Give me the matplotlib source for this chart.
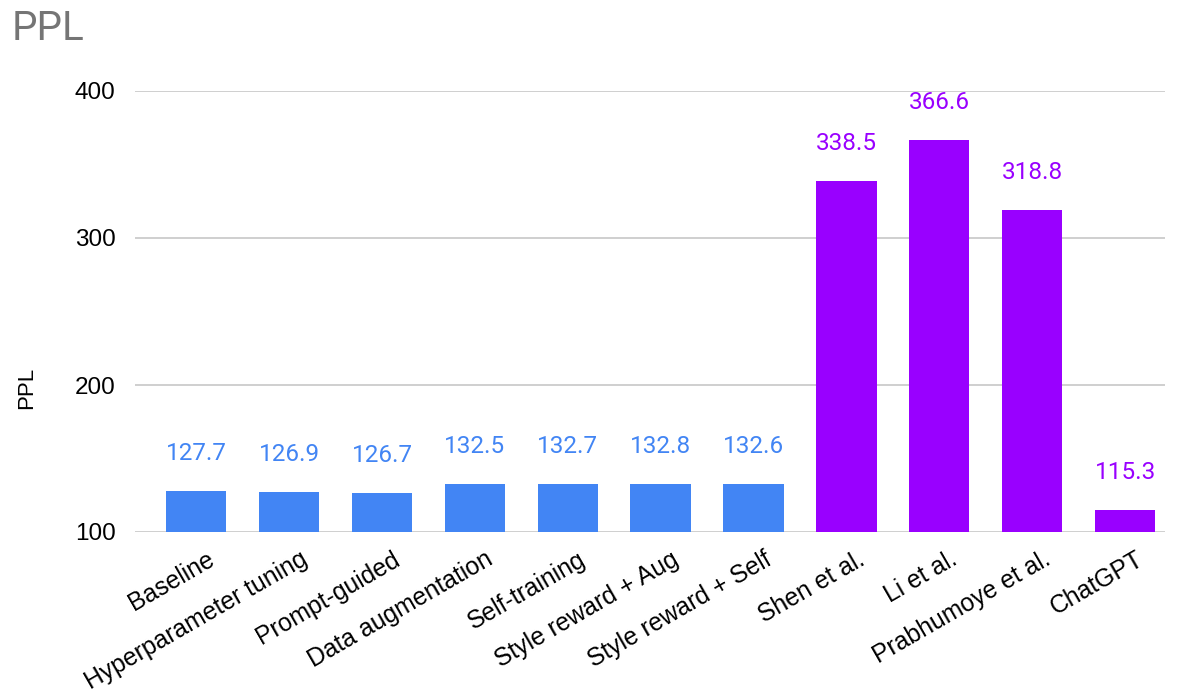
import matplotlib
matplotlib.use("Agg")
import matplotlib.pyplot as plt
import matplotlib.transforms as mtransforms

categories = ["Baseline", "Hyperparameter tuning", "Prompt-guided", "Data augmentation",
              "Self-training", "Style reward + Aug", "Style reward + Self",
              "Shen et al.", "Li et al.", "Prabhumoye et al.", "ChatGPT"]
values = [127.7, 126.9, 126.7, 132.5, 132.7, 132.8, 132.6, 338.5, 366.6, 318.8, 115.3]
groups = ["ours"] * 7 + ["prior"] * 4
yticks = [100, 200, 300, 400]

colors = {"ours": "#4285F4", "prior": "#9900FF"}

W, H = 1181, 694
fig = plt.figure(figsize=(W / 100, H / 100), dpi=100)
ax = fig.add_axes([135 / W, 1 - 532 / H, (1165 - 135) / W, (532 - 91) / H])

x = list(range(len(categories)))
bw = 0.65
for xi, v, g in zip(x, values, groups):
    c = colors[g]
    ax.bar(xi, v - 100, bottom=100, width=bw, color=c, zorder=3)
    ax.annotate(f"{v:.1f}", (xi, v), xytext=(0, 27), textcoords="offset points",
                ha="center", va="center", fontsize=17.5, color=c,
                family=["Roboto", "DejaVu Sans"], annotation_clip=False, zorder=4)

ax.set_ylim(100, 400)
ax.set_xlim(-0.66, 10.43)
ax.set_yticks(yticks)
ax.set_yticklabels([str(t) for t in yticks], fontsize=17.5, family=["Liberation Sans", "DejaVu Sans"])
ax.tick_params(axis="y", length=0, pad=14)
ax.yaxis.grid(True, color="#cccccc", linewidth=1.3, zorder=0)
ax.set_axisbelow(True)
for s in ax.spines.values():
    s.set_visible(False)

ax.set_xticks(x)
ax.set_xticklabels(categories, rotation=30, ha="right", va="top", rotation_mode="anchor",
                   fontsize=17.8, family=["Liberation Sans", "DejaVu Sans"])
ax.tick_params(axis="x", length=0, pad=11)
offset = mtransforms.ScaledTranslation(10 / 100, 0, fig.dpi_scale_trans)
for lbl in ax.get_xticklabels():
    lbl.set_transform(lbl.get_transform() + offset)

ax.set_ylabel("PPL", fontsize=16, family=["Liberation Sans", "DejaVu Sans"])
ax.yaxis.set_label_coords(-(135 - 37) / (1165 - 135), (532 - 388) / (532 - 91))

fig.text(12 / W, 1 - 28 / H, "PPL", fontsize=29, color="#757575", va="center", ha="left",
         family=["Roboto", "DejaVu Sans"])

fig.savefig("out.png", dpi=100, facecolor="white")
